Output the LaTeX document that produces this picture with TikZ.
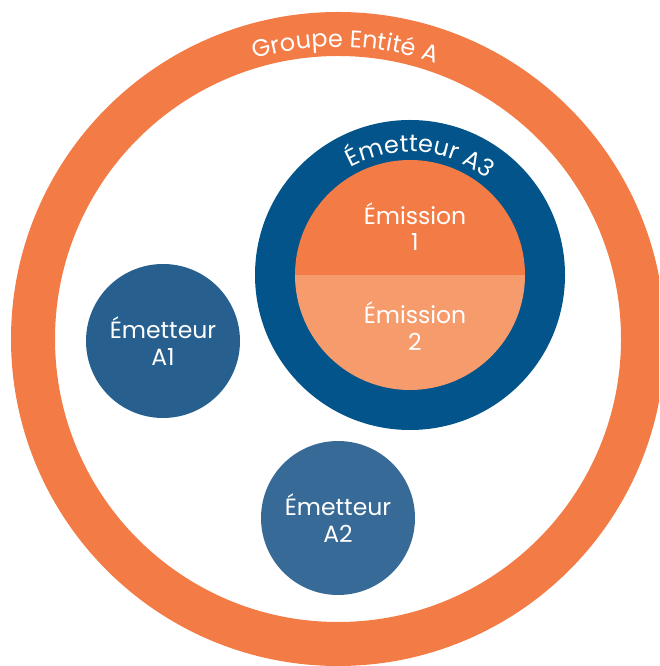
\documentclass[tikz,border=0pt]{standalone}
\usepackage{fontspec}
\setmainfont{Poppins}
\usetikzlibrary{decorations.text}

\definecolor{groupeorange}{HTML}{F37B45}
\definecolor{emissionlight}{HTML}{F69B6C}
\definecolor{emetteurdark}{HTML}{02548A}
\definecolor{emetteurmid}{HTML}{27608F}
\definecolor{emetteurlight}{HTML}{386A98}

\begin{document}
\begin{tikzpicture}[x=1pt, y=1pt]
    \tikzstyle{emetteur} = [circle, text=white, minimum size=154pt, inner sep=0pt, align=center, font=\fontsize{23.5}{26.5}\selectfont]
    \tikzstyle{emission} = [text=white, align=center, font=\fontsize{23.5}{26.5}\selectfont]
    \useasboundingbox (0,0) rectangle (659,666);

    % outer ring of the group, cut by the page border
    \coordinate (groupe) at (338,327);
    \begin{scope}
        \clip (0,0) rectangle (659,666);
        \draw[groupeorange, line width=44pt] (groupe) circle[radius=305];
    \end{scope}
    \path[decorate, decoration={text along path, text align=center,
        text={|\color{white}\fontsize{24}{28}\selectfont|Groupe Entité A}}]
        (groupe) ++(168.5:292) arc[start angle=168.5, end angle=8.5, radius=292];

    % emitter A3 with its two emissions
    \node[emetteur, fill=emetteurdark, minimum size=310pt] (a3) at (410,391) {};
    \begin{scope}
        \clip (a3.center) circle[radius=115];
        \fill[groupeorange] (a3.center) ++(-120,0) rectangle ++(240,120);
        \fill[emissionlight] (a3.center) ++(-120,0) rectangle ++(240,-120);
    \end{scope}
    \path[decorate, decoration={text along path, text align=center,
        text={|\color{white}\fontsize{24}{28}\selectfont|Émetteur A3}}]
        (a3.center) ++(175:123) arc[start angle=175, end angle=-5, radius=123];
    \node[emission] (em1) at (415,439.5) {Émission\\1};
    \node[emission] (em2) at (415,340) {Émission\\2};

    % emitters A1 and A2
    \node[emetteur, fill=emetteurmid] (a1) at (163,325) {Émetteur\\A1};
    \node[emetteur, fill=emetteurlight] (a2) at (338,148) {Émetteur\\A2};
\end{tikzpicture}
\end{document}
